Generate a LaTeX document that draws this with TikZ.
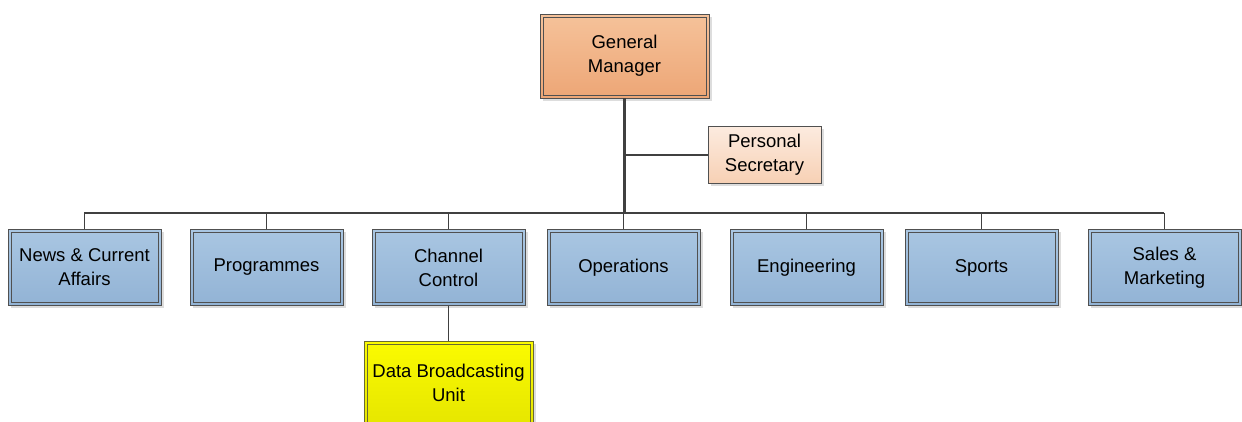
\documentclass[tikz,border=0pt]{standalone}
\usepackage{fontspec}
\setmainfont{Liberation Sans}
\usetikzlibrary{shadows}
\definecolor{edge}{HTML}{404040}
\definecolor{boxline}{HTML}{505050}
\definecolor{blueTop}{HTML}{A9C6E2}
\definecolor{blueBot}{HTML}{92B3D5}
\definecolor{orgTop}{HTML}{F5C29A}
\definecolor{orgBot}{HTML}{EDA676}
\definecolor{peachTop}{HTML}{FCEBDF}
\definecolor{peachBot}{HTML}{F7D0B4}
\definecolor{yelTop}{HTML}{FBFB00}
\definecolor{yelBot}{HTML}{E6E600}
\definecolor{yelLine}{HTML}{6A6A30}
\tikzset{
  unit/.style={rectangle, draw=boxline, line width=0.9pt, align=center,
    font=\fontsize{18.5}{24}\selectfont, inner sep=0pt,
    drop shadow={shadow xshift=2.5pt, shadow yshift=-2.5pt, fill=black!22, opacity=0.6},
    path picture={\draw[boxline, line width=0.9pt]
      ([shift={(3pt,3pt)}]path picture bounding box.south west) rectangle
      ([shift={(-3pt,-3pt)}]path picture bounding box.north east);}},
  dept/.style={unit, minimum width=153pt, minimum height=76pt,
    top color=blueTop, bottom color=blueBot},
  head/.style={unit, minimum width=169pt, minimum height=84pt,
    top color=orgTop, bottom color=orgBot},
  special/.style={unit, draw=yelLine, minimum width=169pt, minimum height=84pt,
    top color=yelTop, bottom color=yelBot,
    path picture={\draw[yelLine, line width=0.9pt]
      ([shift={(3pt,3pt)}]path picture bounding box.south west) rectangle
      ([shift={(-3pt,-3pt)}]path picture bounding box.north east);}},
  aide/.style={rectangle, draw=boxline, line width=0.9pt, align=center,
    font=\fontsize{18.5}{24}\selectfont, inner sep=0pt,
    minimum width=113pt, minimum height=57pt,
    top color=peachTop, bottom color=peachBot,
    drop shadow={shadow xshift=2.5pt, shadow yshift=-2.5pt, fill=black!22, opacity=0.6}},
  link/.style={draw=edge, line width=1.7pt},
  trunk/.style={draw=edge, line width=2.8pt},
  bus/.style={draw=edge, line width=2pt},
}
\begin{document}
\begin{tikzpicture}[x=1pt,y=-1pt]
  \useasboundingbox (0,0) rectangle (1242,421);
  \clip (0,0) rectangle (1242,421);

  % ends of the horizontal bus
  \coordinate (busL) at (84,213);
  \coordinate (busR) at (1164,213);

  % boxes
  \node[head] (gm) at (624.5,56) {General\\Manager};
  \node[aide] (ps) at (764.5,155) {Personal\\Secretary};
  \node[dept] (news) at (84.5,267.5) {News \& Current\\Affairs};
  \node[dept] (prog) at (266.5,267.5) {Programmes};
  \node[dept] (chan) at (448.5,267.5) {Channel\\Control};
  \node[dept] (ops)  at (623.5,267.5) {Operations};
  \node[dept] (eng)  at (806.5,267.5) {Engineering};
  \node[dept] (spo)  at (981.5,267.5) {Sports};
  \node[dept] (sal)  at (1164.5,267.5) {Sales \&\\Marketing};
  \node[special] (dbu) at (448.5,383) {Data Broadcasting\\Unit};

  % reporting lines
  \draw[trunk] (gm.south) -- (gm.south |- busL);
  \draw[link] (gm.south |- ps.west) -- (ps.west);
  \draw[bus] (busL) -- (busR);
  \foreach \d in {news,prog,chan,ops,eng,spo,sal}
    \draw[link] (\d.north |- busL) -- (\d.north);
  \draw[link] (chan.south) -- (dbu.north);
\end{tikzpicture}
\end{document}
